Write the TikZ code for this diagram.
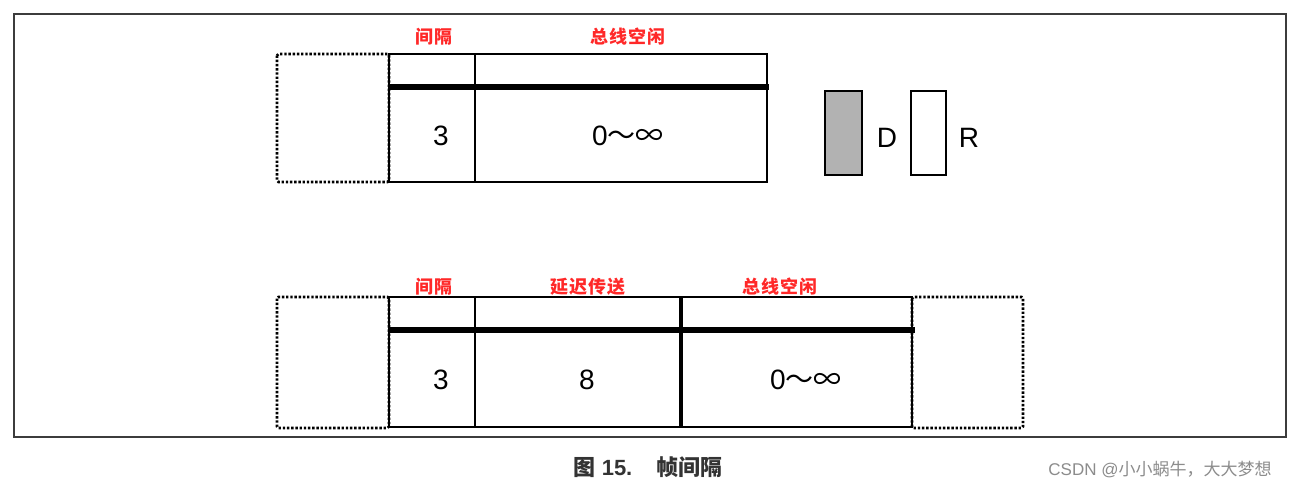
\documentclass[tikz,border=0pt]{standalone}
\usepackage{fontspec}
\setmainfont{Liberation Sans}
\newfontfamily\cjk{Noto Sans CJK SC}
\definecolor{lblred}{RGB}{255,40,40}
\definecolor{framegray}{RGB}{60,60,60}
\definecolor{dgray}{RGB}{178,178,178}
\begin{document}
\begin{tikzpicture}[x=1pt,y=-1pt,
  frame/.style={draw=framegray,line width=2.2pt},
  dotbox/.style={draw=black,line width=2.6pt,dash pattern=on 2.4pt off 1.8pt,rounded corners=1.5pt},
  solidbox/.style={draw=black,line width=2pt},
  busline/.style={draw=black,line width=5.5pt},
  divider/.style={draw=black,line width=2pt},
  divthick/.style={draw=black,line width=3.5pt},
  lbl/.style={text=lblred,font=\cjk\bfseries\fontsize{18}{18}\selectfont,inner sep=0pt},
  num/.style={font=\fontsize{28}{28}\selectfont,inner sep=0pt},
  legend/.style={draw=black,line width=2pt}]
\useasboundingbox (0,0) rectangle (1300,491);
\fill[white] (0,0) rectangle (1300,491);
\draw[frame] (14,14) rectangle (1286,437);
% top diagram
\draw[dotbox] (277,54) rectangle (389,182);
\draw[solidbox] (389,54) rectangle (767,182);
\draw[divider] (475,54) -- (475,182);
\draw[busline] (389,87) -- (769,87);
\node[lbl] (t1) at (434,37) {间\hspace{1pt}隔};
\node[lbl] (t2) at (628,37) {总\hspace{1pt}线\hspace{1pt}空\hspace{1pt}闲};
\node[num] (n1) at (441,136) {3};
\node[num] (n2) at (628,136) {0{\cjk ～∞}};
% legend
\draw[legend,fill=dgray] (825,91) rectangle (862,175);
\node[num] (d) at (887,138) {D};
\draw[legend,fill=white] (911,91) rectangle (946,175);
\node[num] (r) at (969,138) {R};
% bottom diagram
\draw[dotbox] (277,297) rectangle (389,428);
\draw[dotbox] (912,297) rectangle (1023,428);
\draw[solidbox] (389,297) rectangle (912,427);
\draw[divider] (475,297) -- (475,427);
\draw[divthick] (681,297) -- (681,427);
\draw[busline] (389,330) -- (915,330);
\node[lbl] (b1) at (434,287) {间\hspace{1pt}隔};
\node[lbl] (b2) at (588,287) {延\hspace{1pt}迟\hspace{1pt}传\hspace{1pt}送};
\node[lbl] (b3) at (780,287) {总\hspace{1pt}线\hspace{1pt}空\hspace{1pt}闲};
\node[num] (m1) at (441,380) {3};
\node[num] (m2) at (587,380) {8};
\node[num] (m3) at (806,380) {0{\cjk ～∞}};
% caption
\node[inner sep=0pt,text=black!80,font=\bfseries\fontsize{22}{22}\selectfont] (cap) at (648,467) {{\cjk 图} 15.\hspace{24pt}{\cjk 帧间隔}};
\node[inner sep=0pt,text=black!45,font=\fontsize{17}{17}\selectfont] (wm) at (1160,470) {CSDN @{\cjk 小小蜗牛，大大梦想}};
\end{tikzpicture}
\end{document}
